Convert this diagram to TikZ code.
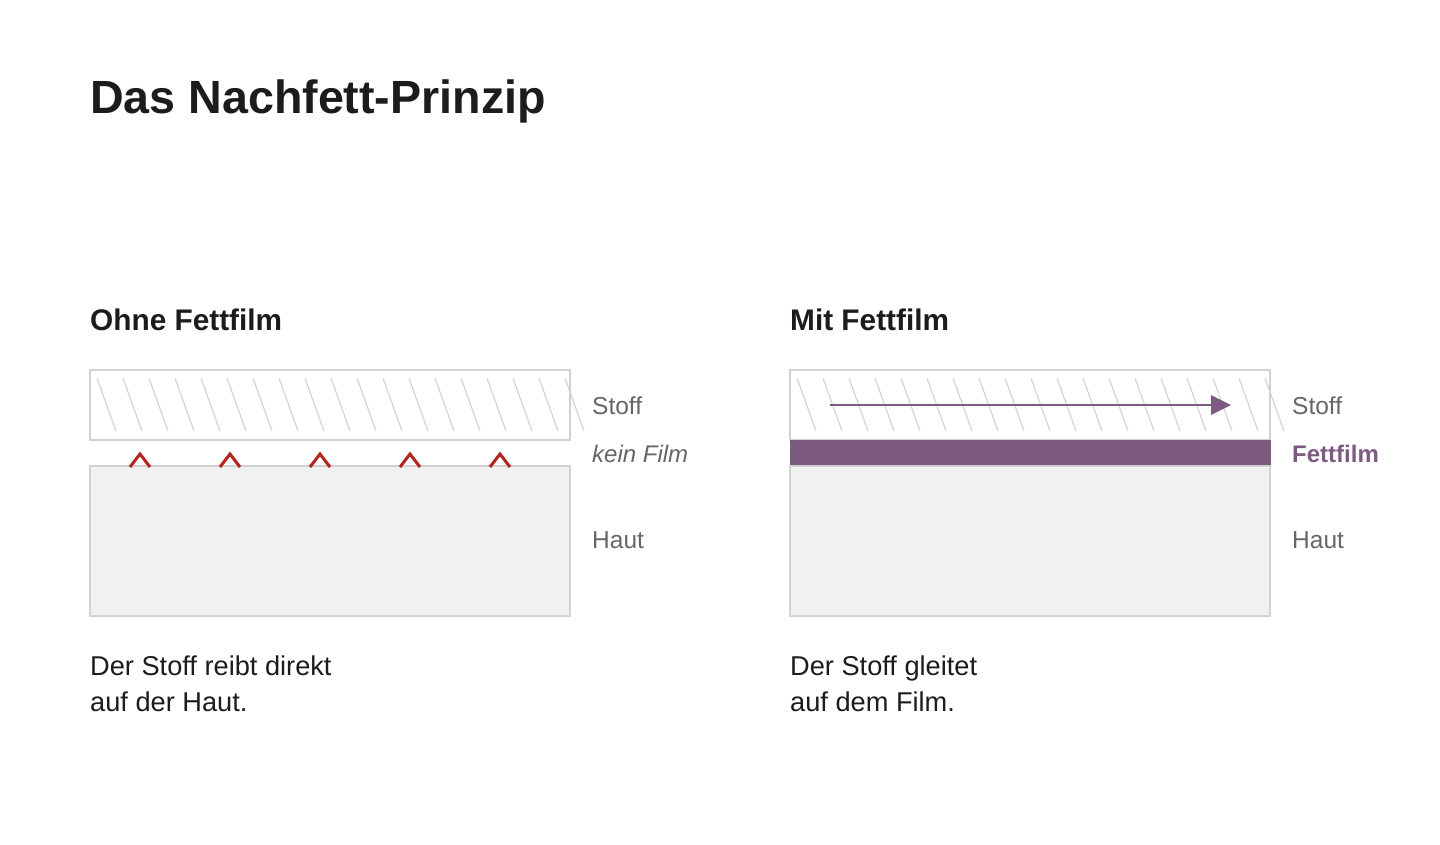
\documentclass[tikz,border=0pt]{standalone}
\usepackage{fontspec}
\setmainfont{Liberation Sans}
\begin{document}
\begin{tikzpicture}[x=1pt,y=-1pt,
  box/.style={draw=boxgray,line width=1.5pt},
  hatch/.style={draw=hatchgray,line width=1.2pt},
  chev/.style={draw=chevred,line width=3pt,line cap=butt,line join=miter},
  lbl/.style={anchor=base west,inner sep=0pt,text=lblgray,font=\fontsize{24.5}{28}\selectfont},
  body/.style={anchor=base west,inner sep=0pt,text=txtdark,font=\fontsize{27.2}{36}\selectfont,align=left},
  sub/.style={anchor=base west,inner sep=0pt,text=txtdark,font=\bfseries\fontsize{29.8}{32}\selectfont},
]
\definecolor{boxgray}{HTML}{D2D2D2}
\definecolor{hatchgray}{HTML}{D4D4D4}
\definecolor{skin}{HTML}{F1F1F1}
\definecolor{chevred}{HTML}{B3261E}
\definecolor{fatpurple}{HTML}{7D5A80}
\definecolor{lblgray}{HTML}{666666}
\definecolor{txtdark}{HTML}{1C1C1C}
\useasboundingbox[fill=white] (0,0) rectangle (1440,844);

\node[anchor=base west,inner sep=0pt,text=txtdark,font=\bfseries\fontsize{46.6}{50}\selectfont] (title) at (90,113) {Das Nachfett-Prinzip};

% ---------- left panel ----------
\node[sub] (lsub) at (90,330) {Ohne Fettfilm};
\foreach \k in {0,...,18} {
  \draw[hatch] (97+26*\k,378) -- (116+26*\k,431);
}
\draw[box] (90,370) rectangle (570,440);
\draw[box,fill=skin] (90,466) rectangle (570,616);
\foreach \cx in {140,230,320,410,500} {
  \draw[chev] (\cx-10,467) -- (\cx,454) -- (\cx+10,467);
}
\node[lbl] (ls) at (592,414) {Stoff};
\node[lbl,font=\itshape\fontsize{24}{28}\selectfont] (lk) at (592,462) {kein Film};
\node[lbl] (lh) at (592,548) {Haut};
\node[body] (lb) at (90,711) {Der Stoff reibt direkt\\auf der Haut.};

% ---------- right panel ----------
\node[sub] (rsub) at (790,330) {Mit Fettfilm};
\foreach \k in {0,...,18} {
  \draw[hatch] (797+26*\k,378) -- (816+26*\k,431);
}
\draw[box] (790,370) rectangle (1270,440);
\draw[box,fill=skin] (790,466) rectangle (1270,616);
\fill[fatpurple] (790,440) rectangle (1271,465);
\coordinate (as) at (830,405);
\coordinate (ae) at (1212,405);
\draw[fatpurple,line width=2.2pt] (as) -- (ae);
\fill[fatpurple] (1211,395) -- (1231,405) -- (1211,415) -- cycle;
\node[lbl] (rs) at (1292,414) {Stoff};
\node[lbl,text=fatpurple,font=\bfseries\fontsize{24}{28}\selectfont] (rf) at (1292,462) {Fettfilm};
\node[lbl] (rh) at (1292,548) {Haut};
\node[body] (rb) at (790,711) {Der Stoff gleitet\\auf dem Film.};
\end{tikzpicture}
\end{document}
